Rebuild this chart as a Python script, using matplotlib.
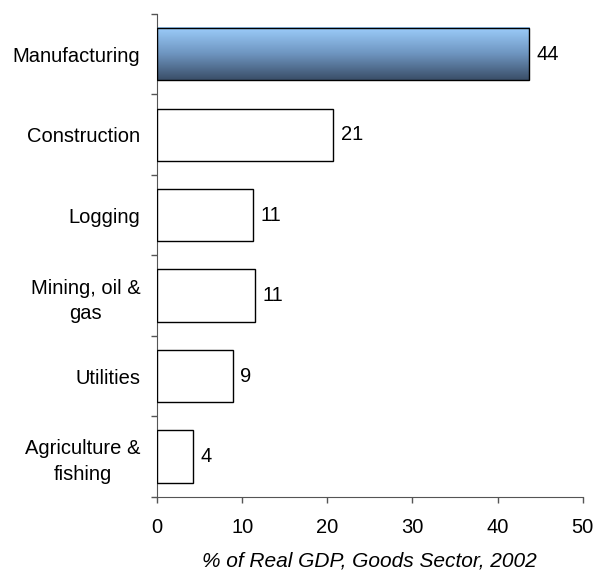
import matplotlib.pyplot as plt
import numpy as np
from matplotlib.ticker import FixedLocator
from matplotlib.colors import LinearSegmentedColormap

plt.rcParams['font.family'] = ['Liberation Sans', 'DejaVu Sans']

sectors = ["Manufacturing", "Construction", "Logging", "Mining, oil &\ngas",
           "Utilities", "Agriculture &\nfishing"]
shares = [43.7, 20.7, 11.3, 11.5, 8.9, 4.2]
share_labels = ["44", "21", "11", "11", "9", "4"]

FS = 14.5

fig = plt.figure(figsize=(5.96, 5.71), dpi=100)
ax = fig.add_axes([0.2634, 0.1301, 0.7143, 0.8454])

pos = np.arange(len(sectors))
bars = ax.barh(pos, shares, height=0.65, facecolor='white', edgecolor='black',
               linewidth=1.0, zorder=3)

# gradient fill for the first bar
b = bars[0]
grad = np.linspace(0, 1, 256).reshape(-1, 1)
cmap = LinearSegmentedColormap.from_list('bl', ['#9ccdfb', '#6e95c0', '#3a4e68'])
x0, y0 = b.get_x(), b.get_y()
ax.imshow(grad, cmap=cmap, aspect='auto', zorder=2,
          extent=[x0, x0 + b.get_width(), y0, y0 + b.get_height()],
          origin='lower')
b.set_facecolor('none')

for p, v, lab in zip(pos, shares, share_labels):
    ax.annotate(lab, (v, p), xytext=(5.5, 0), textcoords='offset points',
                va='center', ha='left', fontsize=FS)

ax.set_xlim(0, 50)
ax.set_ylim(len(sectors) - 0.5, -0.5)
ax.set_xticks([0, 10, 20, 30, 40, 50])
ax.set_yticks(pos)
ax.set_yticklabels(sectors, fontsize=FS, multialignment='center', linespacing=1.45)
ax.tick_params(axis='y', length=0, pad=12)
ax.yaxis.set_minor_locator(FixedLocator(np.arange(-0.5, len(sectors), 1)))
ax.tick_params(axis='y', which='minor', length=4.5, color='#555555', width=1)
ax.tick_params(axis='x', labelsize=FS, length=4.5, color='#555555', width=1, pad=11)

for s in ['top', 'right']:
    ax.spines[s].set_visible(False)
for s in ['left', 'bottom']:
    ax.spines[s].set_color('#555555')

ax.set_xlabel("% of Real GDP, Goods Sector, 2002", fontsize=15,
              style='italic', labelpad=10)

fig.savefig('out.png', dpi=100)
